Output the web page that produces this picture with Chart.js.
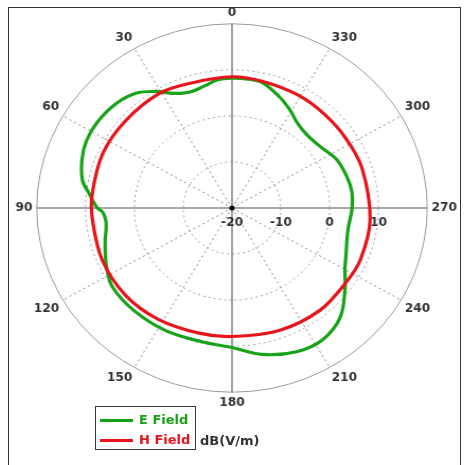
<!DOCTYPE html>
<html>
<head>
<meta charset="utf-8">
<script src="https://cdn.jsdelivr.net/npm/chart.js@4.4.1/dist/chart.umd.min.js"></script>
<style>
  html, body { margin: 0; padding: 0; background: #fff; width: 464px; height: 465px; overflow: hidden; }
  #frame { position: absolute; left: 8px; top: 7px; width: 451px; height: 470px; border: 1px solid #333; overflow: hidden; background: #fff; }
  #chartCanvas { position: absolute; }
  #legend { position: absolute; left: 95px; top: 406px; width: 99px; height: 42px; border: 1.5px solid #3a3a3a; background: #fff;
            font: bold 13px "DejaVu Sans", sans-serif; }
  .row { position: absolute; left: 0; height: 20px; line-height: 20px; white-space: nowrap; }
  .ln { position: absolute; left: 4px; width: 33px; height: 3px; top: 9px; }
  .tx { position: absolute; left: 43px; top: 0; }
  #unit { position: absolute; left: 200px; top: 433px; font: bold 13px "DejaVu Sans", sans-serif; color: #333; white-space: nowrap; }
</style>
</head>
<body>
<div id="frame"><canvas id="chartCanvas"></canvas></div>
<div id="legend"></div>
<div id="unit"></div>
<script>
// ---- data (angles in degrees, counter-clockwise from top; values in dB(V/m)) ----
const seriesNames = ["E Field", "H Field"];
const seriesColors = ["#17a317", "#e8141b"];
const unitLabel = "dB(V/m)";

const eAngles = [0, 6, 12, 18, 22, 27, 31, 38, 46, 56, 64, 71, 79, 84, 87, 90, 92, 96, 100, 105, 111, 117, 125, 138, 153, 168, 180, 191, 203, 213, 223, 233, 240, 247, 253, 260, 270, 278, 286, 296, 306, 316, 324, 331, 338, 347, 354];
const eValues = [8.2, 8.0, 7.1, 6.6, 6.9, 8.0, 9.5, 11.7, 12.8, 13.3, 13.2, 12.5, 11.2, 9.4, 8.5, 7.6, 6.5, 6.0, 6.2, 6.9, 7.8, 8.8, 9.9, 10.0, 9.9, 9.7, 10.3, 12.4, 13.9, 14.1, 12.5, 9.0, 6.7, 5.4, 4.6, 4.2, 4.6, 4.8, 4.5, 3.9, 2.5, 2.1, 2.8, 4.4, 6.0, 7.9, 8.2];

const hAngles = [0, 17, 31, 49, 66, 84, 95, 113, 131, 148, 166, 180, 200, 219, 235, 247, 265, 288, 303, 317, 331, 347];
const hValues = [8.5, 8.4, 9.0, 8.9, 9.0, 8.8, 8.7, 8.9, 8.9, 8.5, 8.0, 7.9, 8.3, 8.6, 8.4, 8.6, 8.4, 8.0, 7.8, 7.8, 8.0, 8.2];

const rMin = -20, rMax = 20, rStep = 10;
const rTickLabels = [-20, -10, 0, 10];
const angleLabelStep = 30;

// ---- build the table the radar scale needs: one label per degree ----
const N = 360;
const labels = [];
for (let i = 0; i < N; i++) labels.push(String((N - i) % N));
function toArray(angles, values) {
  const arr = new Array(N).fill(null);
  angles.forEach((a, k) => { arr[(N - Math.round(a)) % N] = values[k]; });
  return arr;
}
const eData = toArray(eAngles, eValues);
const hData = toArray(hAngles, hValues);

const targetCx = 232, targetCy = 208, targetR = 184.5, stretchX = 1.06;
const frameX = 9, frameY = 8;

const decoPlugin = {
  id: 'deco',
  beforeDatasetsDraw(chart) {
    const s = chart.scales.r, ctx = chart.ctx;
    ctx.save();
    ctx.font = 'bold 11.5px "DejaVu Sans", sans-serif';
    ctx.fillStyle = '#333';
    ctx.textAlign = 'center';
    ctx.textBaseline = 'middle';
    rTickLabels.forEach(v => {
      const d = s.getDistanceFromCenterForValue(v);
      ctx.fillText(String(v), s.xCenter + d, s.yCenter + 15);
    });
    ctx.beginPath();
    ctx.arc(s.xCenter, s.yCenter, 2.6, 0, Math.PI * 2);
    ctx.fillStyle = '#111';
    ctx.fill();
    ctx.restore();
  }
};

const canvas = document.getElementById('chartCanvas');
let chart = null;
function build(W, H) {
  if (chart) chart.destroy();
  canvas.width = W; canvas.height = H;
  canvas.style.width = W + 'px'; canvas.style.height = H + 'px';
  chart = new Chart(canvas, {
    type: 'radar',
    data: {
      labels: labels,
      datasets: [
        { label: seriesNames[0], data: eData, borderColor: seriesColors[0], borderWidth: 3.2, fill: false,
          pointRadius: 0, spanGaps: true, tension: 0.35, order: 1 },
        { label: seriesNames[1], data: hData, borderColor: seriesColors[1], borderWidth: 3.2, fill: false,
          pointRadius: 0, spanGaps: true, tension: 0.35, order: 0 }
      ]
    },
    options: {
      responsive: false,
      animation: false,
      devicePixelRatio: 1,
      layout: { padding: 0 },
      plugins: { legend: { display: false }, tooltip: { enabled: false } },
      scales: {
        r: {
          min: rMin, max: rMax,
          ticks: { display: false, stepSize: rStep },
          grid: { circular: true, color: '#9a9a9a', lineWidth: 1 },
          border: { dash: (c) => (c.tick && c.tick.value === rMax) ? [] : [2, 3] },
          angleLines: {
            color: '#8c8c8c',
            lineWidth: (c) => { const a = (N - c.index) % N; return a % 90 === 0 ? 1.6 : (a % angleLabelStep === 0 ? 1 : 0); },
            borderDash: (c) => { const a = (N - c.index) % N; return a % 90 === 0 ? [] : [2, 3]; }
          },
          pointLabels: {
            font: { family: 'DejaVu Sans', size: 11.5, weight: 'bold' },
            color: '#333',
            padding: 4,
            callback: (label) => (Number(label) % angleLabelStep === 0 ? label : '')
          }
        }
      }
    },
    plugins: [decoPlugin]
  });
  return chart.scales.r;
}

let W = 460, H = 410;
let s = build(W, H);
H = Math.round(H + 2 * (targetR - s.drawingArea));
s = build(W, H);
canvas.style.left = (targetCx - frameX - s.xCenter) + 'px';
canvas.style.top = (targetCy - frameY - s.yCenter) + 'px';
canvas.style.transformOrigin = s.xCenter + 'px ' + s.yCenter + 'px';
canvas.style.transform = 'scaleX(' + stretchX + ')';

// ---- legend from the series names ----
const legend = document.getElementById('legend');
seriesNames.forEach((name, k) => {
  const row = document.createElement('div');
  row.className = 'row';
  row.style.top = (3 + k * 20) + 'px';
  row.innerHTML = '<span class="ln" style="background:' + seriesColors[k] + '"></span>' +
                  '<span class="tx" style="color:' + seriesColors[k] + '">' + name + '</span>';
  legend.appendChild(row);
});
document.getElementById('unit').textContent = unitLabel;
</script>
</body>
</html>
